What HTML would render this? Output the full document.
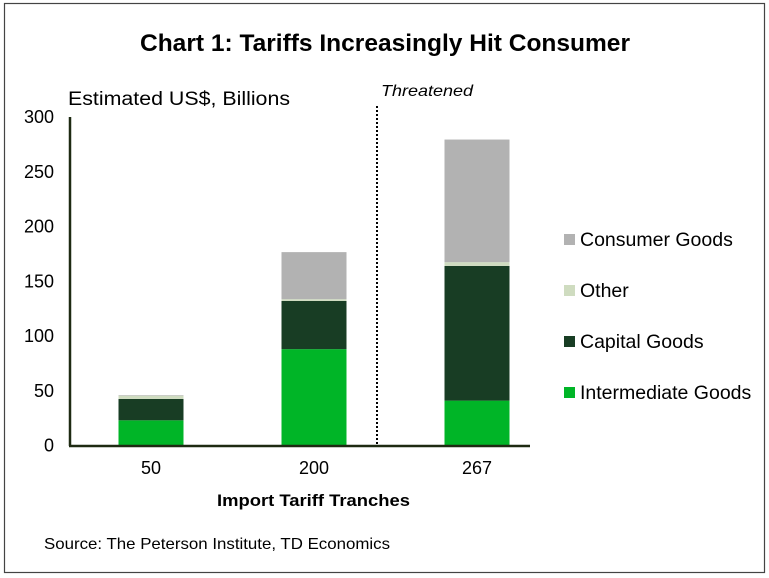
<!DOCTYPE html>
<html><head><meta charset="utf-8"><style>
body{margin:0;background:#fff;}
svg{display:block;font-family:"Liberation Sans",Arial,sans-serif;}
</style></head><body>
<svg id="c" width="769" height="578" xmlns="http://www.w3.org/2000/svg">
<rect x="4.5" y="3.5" width="760" height="569" fill="#fff" stroke="#444" stroke-width="1.2"/>
<text x="140" y="51" font-size="24" font-weight="bold" textLength="490" lengthAdjust="spacingAndGlyphs">Chart 1: Tariffs Increasingly Hit Consumer</text>
<text x="68" y="105" font-size="19" textLength="222" lengthAdjust="spacingAndGlyphs">Estimated US$, Billions</text>
<text x="381" y="96" font-size="16" font-style="italic" textLength="92" lengthAdjust="spacingAndGlyphs">Threatened</text>
<g id="bars"></g>
<g id="yt"></g>
<line x1="377" y1="106" x2="377" y2="445" stroke="#000" stroke-width="2" stroke-dasharray="2,2"/>
<line x1="70" y1="117" x2="70" y2="446" stroke="#1e2a12" stroke-width="2.5"/>
<line x1="69" y1="446" x2="530" y2="446" stroke="#1e2a12" stroke-width="2.5"/>
<text x="217" y="506" font-size="17" font-weight="bold" textLength="193" lengthAdjust="spacingAndGlyphs">Import Tariff Tranches</text>
<text x="44" y="549" font-size="16" textLength="346" lengthAdjust="spacingAndGlyphs">Source: The Peterson Institute, TD Economics</text>
<g id="legend"></g>
</svg>
<script>
const categories=["50","200","267"];
const intermediate=[23,88,41];
const capital=[19.5,44,123];
const other=[3,1.6,3.4];
const consumer=[0.5,43,112];
const yTicks=[0,50,100,150,200,250,300];
const seriesNames=["Intermediate Goods","Capital Goods","Other","Consumer Goods"];
const colors=["#00b527","#183d24","#cfdcc0","#b2b2b2"];
const NS="http://www.w3.org/2000/svg";
const y0=445.5,yScale=(445.5-117)/300;
const y=v=>y0-v*yScale;
const xC=i=>151+i*163;
const bw=65;
function mk(t,a,p){const e=document.createElementNS(NS,t);for(const k in a)e.setAttribute(k,a[k]);p.appendChild(e);return e;}
const series=[intermediate,capital,other,consumer];
const bg=document.getElementById('bars');
categories.forEach((c,i)=>{
  let base=0;
  series.forEach((s,j)=>{
    const r=mk('rect',{x:xC(i)-bw/2,y:y(base+s[i]),width:bw,height:s[i]*yScale,fill:colors[j]},bg);
    
    
    base+=s[i];
  });
  const t=mk('text',{x:xC(i),y:474,'text-anchor':'middle','font-size':18},bg);
  t.textContent=c;
  
  
});
const yt=document.getElementById('yt');
yTicks.forEach(v=>{
  const t=mk('text',{x:54,y:y(v)+6,'text-anchor':'end','font-size':18},yt);
  t.textContent=v;
  
  
});
const lg=document.getElementById('legend');
[3,2,1,0].forEach((j,k)=>{
  const g=mk('g',{},lg);
  
  
  const yy=240+k*51;
  mk('rect',{x:564,y:yy-6,width:11,height:11,fill:colors[j]},g);
  const t=mk('text',{x:580,y:yy+6,'font-size':19.5},g);
  t.textContent=seriesNames[j];
});
</script>
</body></html>
